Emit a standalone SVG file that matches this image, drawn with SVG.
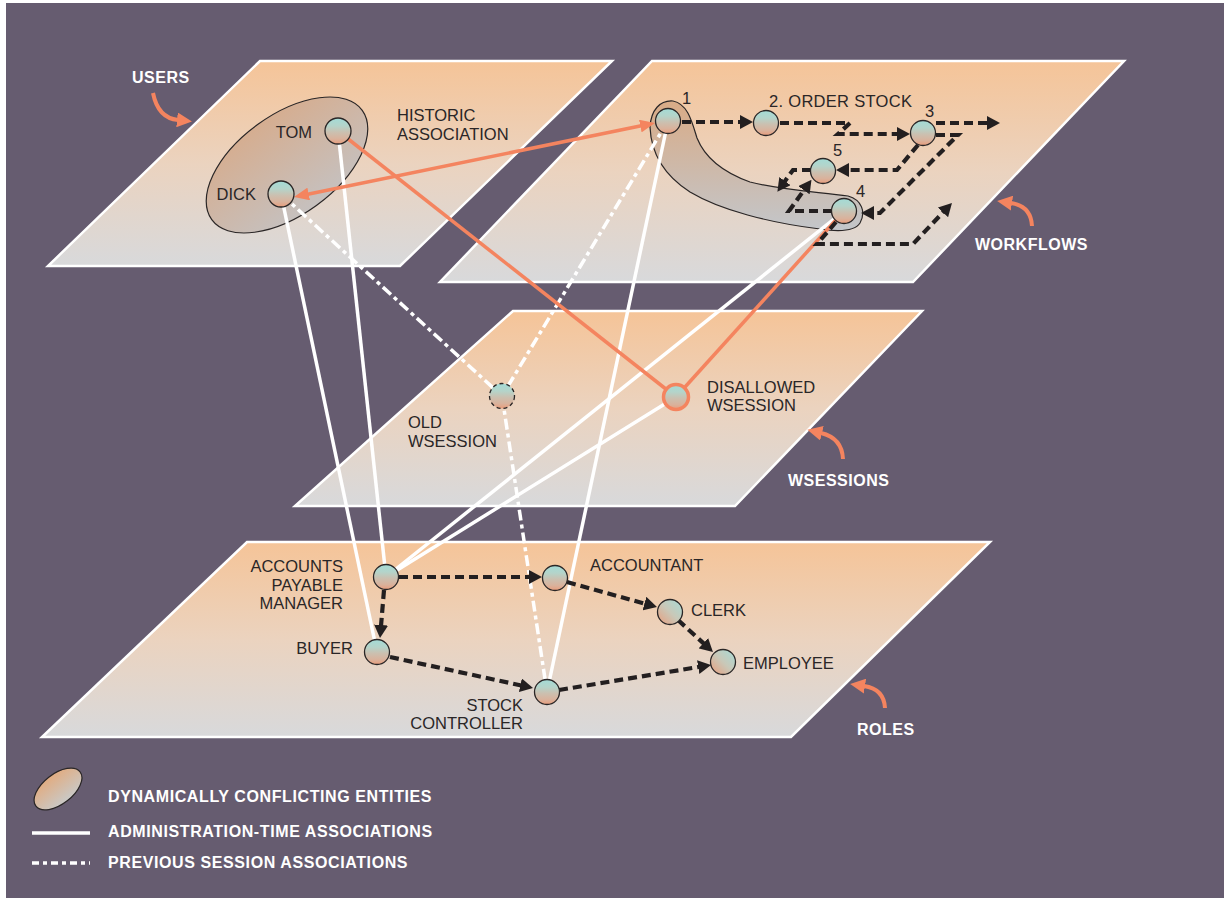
<svg xmlns="http://www.w3.org/2000/svg" width="1224" height="898" viewBox="0 0 1224 898">
<style>
.plane{stroke:#ffffff;stroke-width:2.5;fill:url(#gPlane)}
.node{fill:url(#gNode);stroke:#2a2626;stroke-width:1.3}
.nodeD{fill:url(#gNodeD);stroke:#2a2626;stroke-width:1.3}
.lbl{font-family:"Liberation Sans",Arial,sans-serif;font-size:16.5px;fill:#2a2627}
.plbl{font-family:"Liberation Sans",Arial,sans-serif;font-size:16px;font-weight:bold;fill:#ffffff;letter-spacing:0.5px}
.leg{font-family:"Liberation Sans",Arial,sans-serif;font-size:16px;font-weight:bold;fill:#ffffff;letter-spacing:0.6px}
.admin{fill:none;stroke:#ffffff;stroke-width:3.5}
.prev{fill:none;stroke:#ffffff;stroke-width:3.5;stroke-dasharray:11 4 4 4}
.hist{fill:none;stroke:#f4845f;stroke-width:3.5}
.flow{fill:none;stroke:#231f20;stroke-width:4.2;stroke-dasharray:9 5;marker-end:url(#ah)}
.curl{fill:none;stroke:#f4845f;stroke-width:4;marker-end:url(#oh)}
</style>
<defs>
<linearGradient id="gPlane" x1="0" y1="0" x2="0" y2="1">
<stop offset="0" stop-color="#f5c498"/>
<stop offset="0.5" stop-color="#ebd3bf"/>
<stop offset="1" stop-color="#d8d9db"/>
</linearGradient>
<linearGradient id="gNode" x1="0" y1="0" x2="0" y2="1">
<stop offset="0" stop-color="#a3dbd6"/>
<stop offset="0.3" stop-color="#b4d4ca"/>
<stop offset="0.55" stop-color="#cbc0b0"/>
<stop offset="0.8" stop-color="#d9b29c"/>
<stop offset="1" stop-color="#e99d7c"/>
</linearGradient>
<linearGradient id="gNodeD" x1="1" y1="0" x2="0" y2="1">
<stop offset="0" stop-color="#a6dcd8"/>
<stop offset="0.5" stop-color="#c9c8b8"/>
<stop offset="1" stop-color="#e99d7c"/>
</linearGradient>
<linearGradient id="gBlob" gradientUnits="userSpaceOnUse" x1="0" y1="100" x2="0" y2="230">
<stop offset="0" stop-color="#d9ab86"/>
<stop offset="1" stop-color="#c3c6ca"/>
</linearGradient>
<linearGradient id="gUserEll" gradientUnits="userSpaceOnUse" x1="0" y1="97" x2="0" y2="233">
<stop offset="0" stop-color="#d8aa88"/>
<stop offset="1" stop-color="#c3c4c7"/>
</linearGradient>
<linearGradient id="gLegEll" gradientUnits="userSpaceOnUse" x1="0" y1="770" x2="0" y2="808">
<stop offset="0" stop-color="#e4a878"/>
<stop offset="1" stop-color="#c6cdd0"/>
</linearGradient>
<marker id="ah" markerUnits="userSpaceOnUse" viewBox="0 0 13 14" refX="1" refY="7" markerWidth="13" markerHeight="14" orient="auto">
<path d="M0,0 L13,7 L0,14 z" fill="#231f20"/>
</marker>
<marker id="oh" markerUnits="userSpaceOnUse" viewBox="0 0 15 15" refX="1" refY="7.5" markerWidth="15" markerHeight="15" orient="auto">
<path d="M0,0 L15,7.5 L0,15 z" fill="#f4845f"/>
</marker>
<marker id="hh" markerUnits="userSpaceOnUse" viewBox="0 0 15 13" refX="1" refY="6.5" markerWidth="15" markerHeight="13" orient="auto-start-reverse">
<path d="M0,0 L15,6.5 L0,13 z" fill="#f4845f"/>
</marker>
</defs>

<rect x="0" y="0" width="1224" height="898" fill="#ffffff"/>
<rect x="6" y="3" width="1218" height="895" fill="#665c70"/>

<g id="planes">
<polygon id="plane-users" class="plane" points="260,61 612,61 400,266 48,266"/>
<polygon id="plane-workflows" class="plane" points="652,61 1124,61 913,282 440,282"/>
<polygon id="plane-wsessions" class="plane" points="513,311 922,311 735,506 295,506"/>
<polygon id="plane-roles" class="plane" points="247,542 990,542 791,737 42,737"/>
</g>

<g id="plane-labels">
<text class="plbl" x="132" y="83">USERS</text>
<text class="plbl" x="975" y="250">WORKFLOWS</text>
<text class="plbl" x="788" y="486">WSESSIONS</text>
<text class="plbl" x="857" y="735">ROLES</text>
<path class="curl" d="M153,93 Q158,118 178,120"/>
<path class="curl" d="M1032,226 Q1031,206 1011,203"/>
<path class="curl" d="M843,459 Q842,438 821,433"/>
<path class="curl" d="M885,708 Q884,689 864,686"/>
</g>

<g id="conflict-sets">
<ellipse id="users-conflict" cx="287" cy="165" rx="93" ry="50" transform="rotate(-36 287 165)" fill="url(#gUserEll)" stroke="#2a2626" stroke-width="1.2"/>
<path id="workflow-conflict" d="M673,101 C660,100 651,110 650,127 C651,152 662,174 690,192 C720,210 770,223 820,229 C840,232 855,231 860,223 C866,212 862,200 848,196 C820,192 780,190 750,182 C722,172 705,158 697,138 C692,122 688,104 673,101 Z" fill="url(#gBlob)" stroke="#2a2626" stroke-width="1.2"/>
</g>

<g id="connectors">
<line class="admin" x1="338" y1="131" x2="386" y2="577"/>
<line class="admin" x1="281" y1="194" x2="377" y2="652"/>
<line class="admin" x1="668" y1="121" x2="547" y2="692"/>
<line class="admin" x1="844" y1="211" x2="386" y2="577"/>
<line class="admin" x1="676" y1="397" x2="386" y2="577"/>
<line class="prev" x1="281" y1="194" x2="502" y2="396"/>
<line class="prev" x1="668" y1="121" x2="502" y2="396"/>
<line class="prev" x1="502" y1="396" x2="547" y2="692"/>
<line class="hist" x1="338" y1="131" x2="676" y2="397"/>
<line class="hist" x1="844" y1="211" x2="676" y2="397"/>
<line class="hist" x1="307.7" y1="194.2" x2="641.3" y2="125.8" marker-start="url(#hh)" marker-end="url(#hh)"/>
<path class="flow" d="M682,122 H741"/>
<path class="flow" d="M780,123 H850 L838,134 H898"/>
<path class="flow" d="M936,123 H988"/>
<path class="flow" d="M918,145 L897,170 H848"/>
<path class="flow" d="M811,170 H793 L784.4,181.9"/>
<path class="flow" d="M832,211 H789 L804.5,189.4"/>
<path class="flow" d="M936,135 H958 L880,213 H873"/>
<path class="flow" d="M836,222 L817,244 H913 L943.7,211.7"/>
<path class="flow" d="M399,577 H530"/>
<path class="flow" d="M384,590 L381,626"/>
<path class="flow" d="M390,657 L521.3,685.5"/>
<path class="flow" d="M567,582 L645.4,603.8"/>
<path class="flow" d="M678,620 L704.1,643.9"/>
<path class="flow" d="M559,690 L699.2,666.9"/>
</g>

<g id="node-tom"><circle class="node" cx="338" cy="131" r="13"/><text class="lbl" x="312" y="138" text-anchor="end">TOM</text></g>
<g id="node-dick"><circle class="node" cx="281" cy="194" r="13"/><text class="lbl" x="256" y="200" text-anchor="end">DICK</text></g>
<g id="label-historic"><text class="lbl" x="397" y="121">HISTORIC</text><text class="lbl" x="397" y="140">ASSOCIATION</text></g>

<g id="node-wf1"><circle class="node" cx="668" cy="121" r="12.5"/><text class="lbl" x="682" y="104">1</text></g>
<g id="node-wf2"><circle class="node" cx="766" cy="123" r="12.5"/><text class="lbl" x="769" y="107" letter-spacing="0.3">2. ORDER STOCK</text></g>
<g id="node-wf3"><circle class="node" cx="923" cy="133" r="12.5"/><text class="lbl" x="925" y="117">3</text></g>
<g id="node-wf5"><circle class="node" cx="823" cy="171" r="12.5"/><text class="lbl" x="833" y="156">5</text></g>
<g id="node-wf4"><circle class="node" cx="844" cy="211" r="12.5"/><text class="lbl" x="856" y="197">4</text></g>

<g id="node-old-wsession"><circle class="node" cx="502" cy="396" r="12.5" style="stroke-dasharray:4 3"/><text class="lbl" x="408" y="428">OLD</text><text class="lbl" x="408" y="447">WSESSION</text></g>
<g id="node-disallowed-wsession"><circle class="node" cx="676" cy="397" r="12.5" style="stroke:#f4845f;stroke-width:3.5"/><text class="lbl" x="707" y="393">DISALLOWED</text><text class="lbl" x="707" y="411">WSESSION</text></g>

<g id="node-apm"><circle class="node" cx="386" cy="577" r="12.5"/><text class="lbl" x="343" y="572" text-anchor="end">ACCOUNTS</text><text class="lbl" x="343" y="591" text-anchor="end">PAYABLE</text><text class="lbl" x="343" y="609" text-anchor="end">MANAGER</text></g>
<g id="node-accountant"><circle class="node" cx="555" cy="578" r="12.5"/><text class="lbl" x="590" y="571">ACCOUNTANT</text></g>
<g id="node-buyer"><circle class="node" cx="377" cy="652" r="12.5"/><text class="lbl" x="353" y="654" text-anchor="end">BUYER</text></g>
<g id="node-stock-controller"><circle class="node" cx="547" cy="692" r="12.5"/><text class="lbl" x="523" y="711" text-anchor="end">STOCK</text><text class="lbl" x="523" y="729" text-anchor="end">CONTROLLER</text></g>
<g id="node-clerk"><circle class="nodeD" cx="670" cy="612" r="12.5"/><text class="lbl" x="691" y="616">CLERK</text></g>
<g id="node-employee"><circle class="nodeD" cx="723" cy="662" r="12.5"/><text class="lbl" x="743" y="669">EMPLOYEE</text></g>

<g id="legend">
<ellipse cx="58" cy="789" rx="28" ry="15" transform="rotate(-38 58 789)" fill="url(#gLegEll)" stroke="#2a2626" stroke-width="1.2"/>
<text class="leg" x="108" y="802">DYNAMICALLY CONFLICTING ENTITIES</text>
<line class="admin" x1="32" y1="833" x2="90" y2="833"/>
<text class="leg" x="108" y="837">ADMINISTRATION-TIME ASSOCIATIONS</text>
<line class="prev" x1="32" y1="863" x2="90" y2="863" style="stroke-dasharray:7 4 4 4"/>
<text class="leg" x="108" y="868">PREVIOUS SESSION ASSOCIATIONS</text>
</g>
</svg>
